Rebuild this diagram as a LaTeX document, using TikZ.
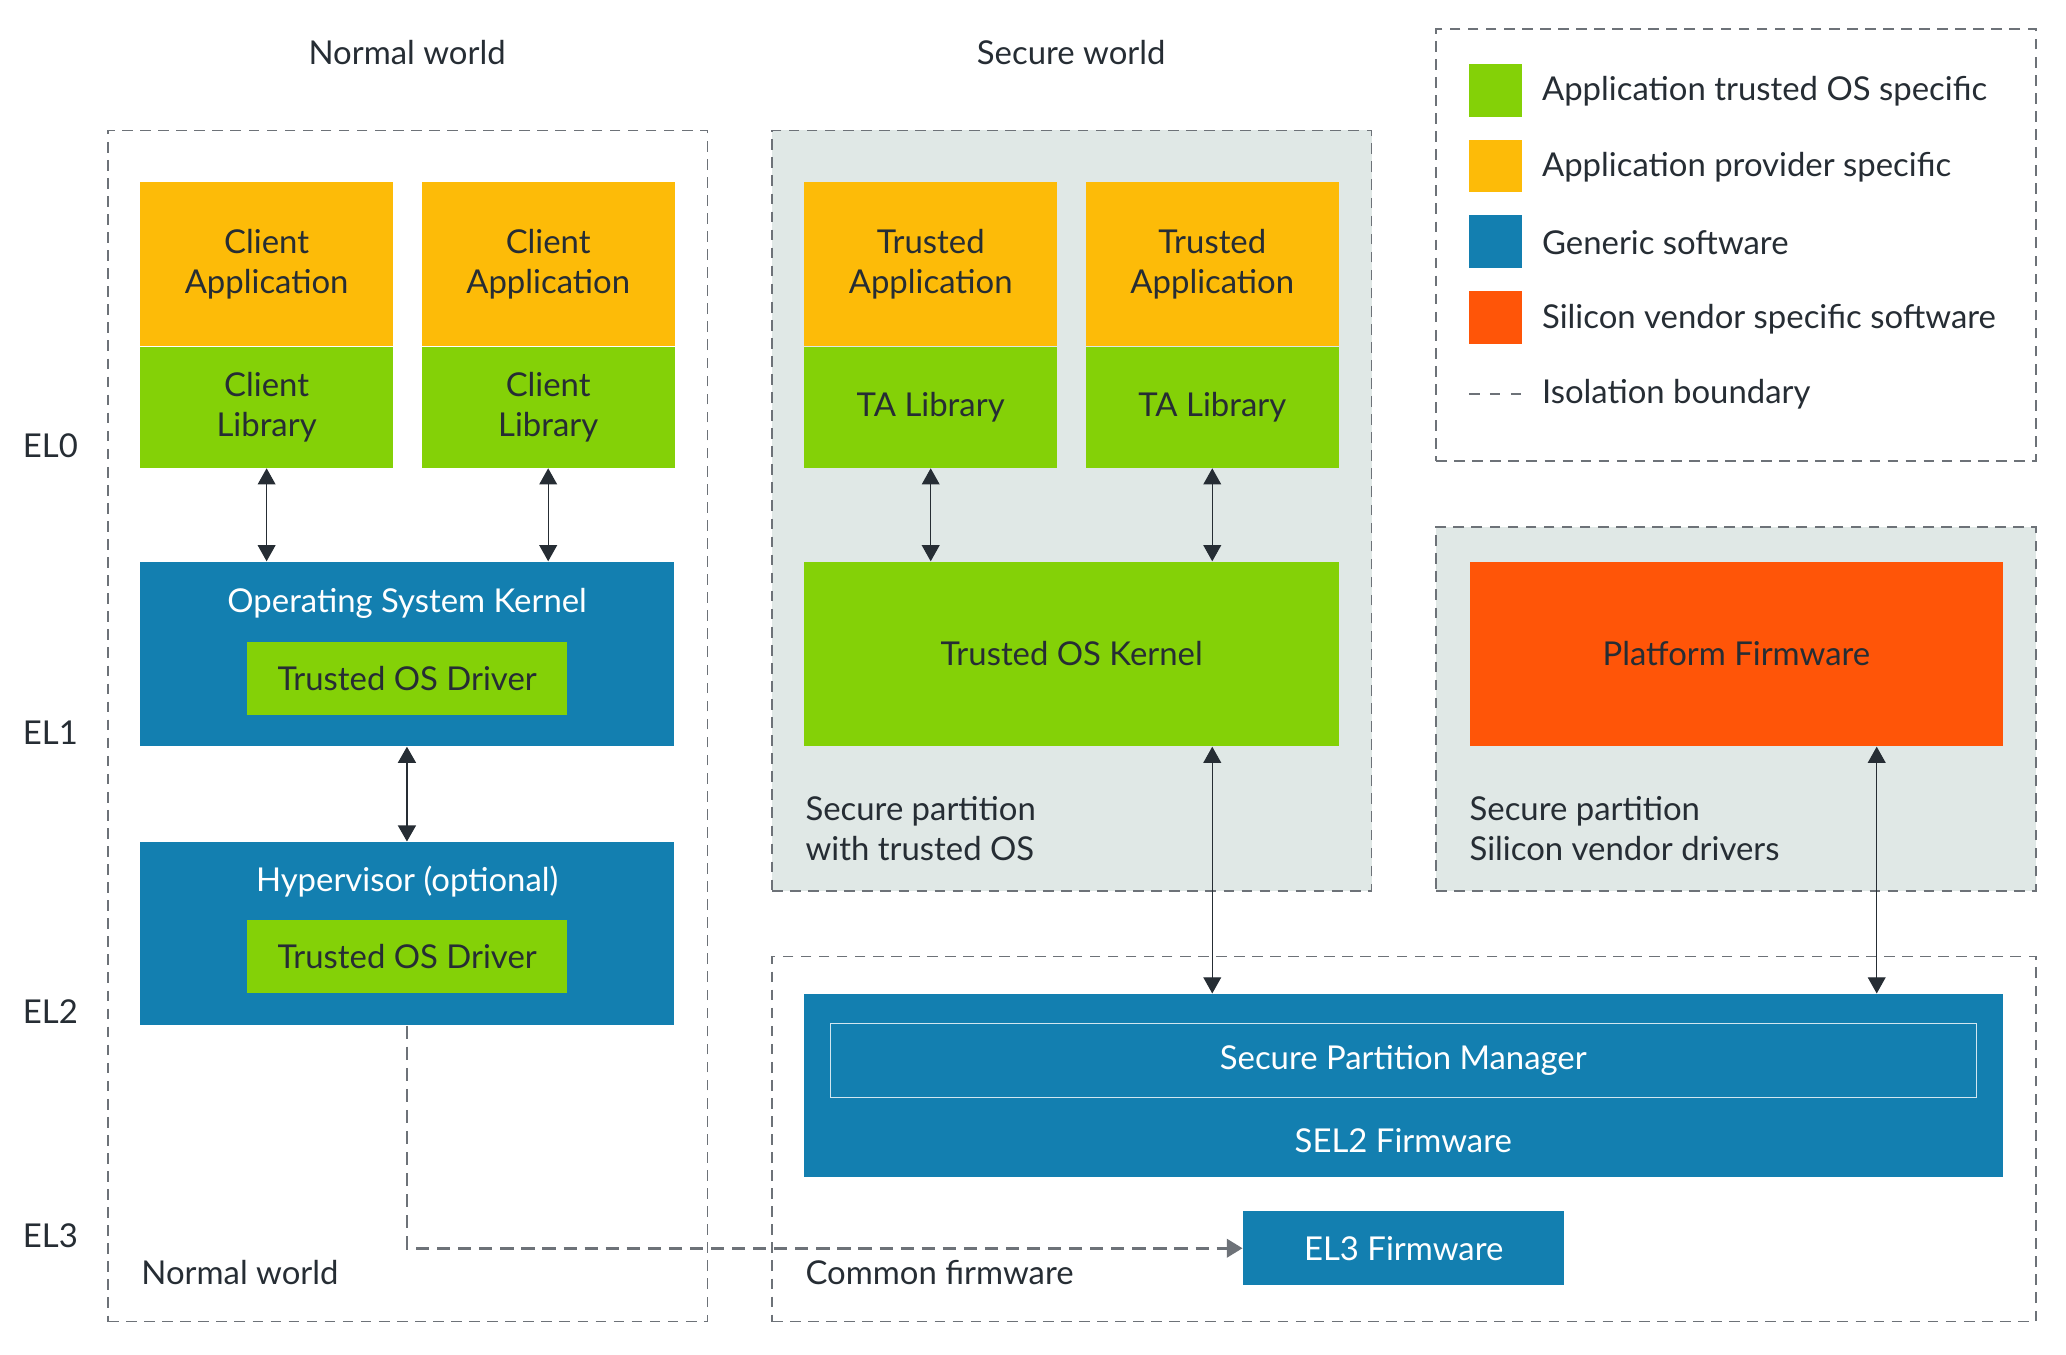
\documentclass[tikz,border=0pt]{standalone}
\usepackage{fontspec}
\setmainfont{Lato}
\usetikzlibrary{positioning, calc, arrows.meta, fit}

\definecolor{appyellow}{HTML}{FDBB08}
\definecolor{tosgreen}{HTML}{84D107}
\definecolor{genblue}{HTML}{137FB0}
\definecolor{vendorred}{HTML}{FF5508}
\definecolor{partgray}{HTML}{E0E8E6}
\definecolor{linegray}{HTML}{6D7278}
\definecolor{spmline}{HTML}{D2E6F0}
\definecolor{ink}{HTML}{262D34}

\begin{document}
\begin{tikzpicture}[x=0.02cm, y=-0.02cm,
    every node/.style={font=\fontsize{14.2}{17.1}\selectfont, text=ink},
    dims/.style 2 args={minimum width=#1*0.02cm, minimum height=#2*0.02cm},
    blk/.style={inner sep=0pt, align=center},
    app/.style={blk, fill=appyellow},
    tos/.style={blk, fill=tosgreen},
    gen/.style={blk, fill=genblue, text=white},
    vendor/.style={blk, fill=vendorred},
    lbl/.style={anchor=west, inner sep=0pt, align=left},
    iso/.style={draw=linegray, line width=0.7pt, dash pattern=on 4.6pt off 3.2pt, inner sep=0pt},
    link/.style={{Triangle[length=7pt,width=7.7pt]}-{Triangle[length=7pt,width=7.7pt]}, draw=ink, line width=0.55pt},
    hop/.style={-{Triangle[length=6.8pt,width=8pt]}, draw=linegray, line width=1.1pt, dash pattern=on 5.7pt off 3.4pt}]
    \useasboundingbox (0,0) rectangle (1568,1028);

    % isolation boundaries
    \node[iso, fit={(82,99) (537,1003)}] (nw) {};
    \node[iso, fill=partgray, fit={(586,99) (1041,676)}] (sw) {};
    \node[iso, fill=partgray, fit={(1090,400) (1545,676)}] (sv) {};
    \node[iso, fit={(586,726) (1545,1003)}] (cf) {};
    \node[iso, fit={(1090,22) (1545,350)}] (leg) {};

    \node (nwt) at (309,40) {Normal world};
    \node (swt) at (813,40) {Secure world};
    \foreach \el/\y in {0/338, 1/556, 2/768, 3/938}
        \node[lbl] (el\el) at (17,\y) {EL\el};

    % normal world
    \node[app, dims={192}{124}, anchor=north west] (ca1) at (106,138) {Client\\Application};
    \node[tos, dims={192}{92}, below=0pt of ca1] (cl1) {Client\\Library};
    \node[app, dims={192}{124}, right=0.42cm of ca1] (ca2) {Client\\Application};
    \node[tos, dims={192}{92}, below=0pt of ca2] (cl2) {Client\\Library};
    \node[gen, dims={405}{140}, anchor=north west] (osk) at (106,426) {};
    \node[text=white] (oskt) at (309,458) {Operating System Kernel};
    \node[tos, dims={243}{56}] (drv1) at (309,515) {Trusted OS Driver};
    \node[gen, dims={405}{139}, below=1.44cm of osk] (hyp) {};
    \node[text=white] (hypt) at (309,669) {Hypervisor (optional)};
    \node[tos, dims={243}{56}] (drv2) at (309,726) {Trusted OS Driver};
    \node[lbl] (nwl) at (107,966) {Normal world};

    % secure world
    \node[app, dims={192}{124}, anchor=north west] (ta1) at (610,138) {Trusted\\Application};
    \node[tos, dims={192}{92}, below=0pt of ta1] (tal1) {TA Library};
    \node[app, dims={192}{124}, right=0.42cm of ta1] (ta2) {Trusted\\Application};
    \node[tos, dims={192}{92}, below=0pt of ta2] (tal2) {TA Library};
    \node[tos, dims={406}{140}, anchor=north west] (tosk) at (610,426) {Trusted OS Kernel};
    \node[lbl] (spt) at (611,629) {Secure partition\\with trusted OS};
    \node[vendor, dims={405}{140}, anchor=north west] (pf) at (1115,426) {Platform Firmware};
    \node[lbl] (spv) at (1115,629) {Secure partition\\Silicon vendor drivers};

    % common firmware
    \node[gen, dims={910}{139}, anchor=north west] (sel2) at (610,754) {};
    \node[draw=spmline, line width=0.45pt, inner sep=0pt, text=white, dims={870}{56}] (spm) at (1065,805) {Secure Partition Manager};
    \node[text=white] (sel2t) at (1065,866) {SEL2 Firmware};
    \node[gen, dims={244}{56}, anchor=north west] (el3) at (943,919) {EL3 Firmware};
    \node[lbl] (cfl) at (611,966) {Common firmware};

    % legend
    \foreach \c/\t [count=\i] in {tosgreen/Application trusted OS specific, appyellow/Application provider specific, genblue/Generic software, vendorred/Silicon vendor specific software} {
        \node[fill=\c, minimum size=0.8cm, inner sep=0pt] (key\i) at (1135,11+57.5*\i) {};
        \node[lbl] (keyt\i) at (1170,12+57.5*\i) {\t};
    }
    \coordinate (dash0) at (1115,299);
    \coordinate[right=0.8cm of dash0] (dash1);
    \draw[iso, dash pattern=on 4.5pt off 4.5pt] (dash0) -- (dash1);
    \node[lbl] (keyt5) at (1170,299) {Isolation boundary};

    % connectors
    \draw[link] (cl1.south) -- (cl1.south |- osk.north);
    \draw[link] (cl2.south) -- (cl2.south |- osk.north);
    \draw[link, line width=1pt] (osk.south) -- (hyp.north);
    \draw[link] (tal1.south) -- (tal1.south |- tosk.north);
    \draw[link] (tal2.south) -- (tal2.south |- tosk.north);
    \draw[link] (tosk.south -| tal2.south) -- (sel2.north -| tal2.south);
    \draw[link] ([xshift=2.13cm]pf.south) -- ([xshift=2.13cm]pf.south |- sel2.north);
    \draw[hop] (hyp.south) |- (el3.west);
\end{tikzpicture}
\end{document}
